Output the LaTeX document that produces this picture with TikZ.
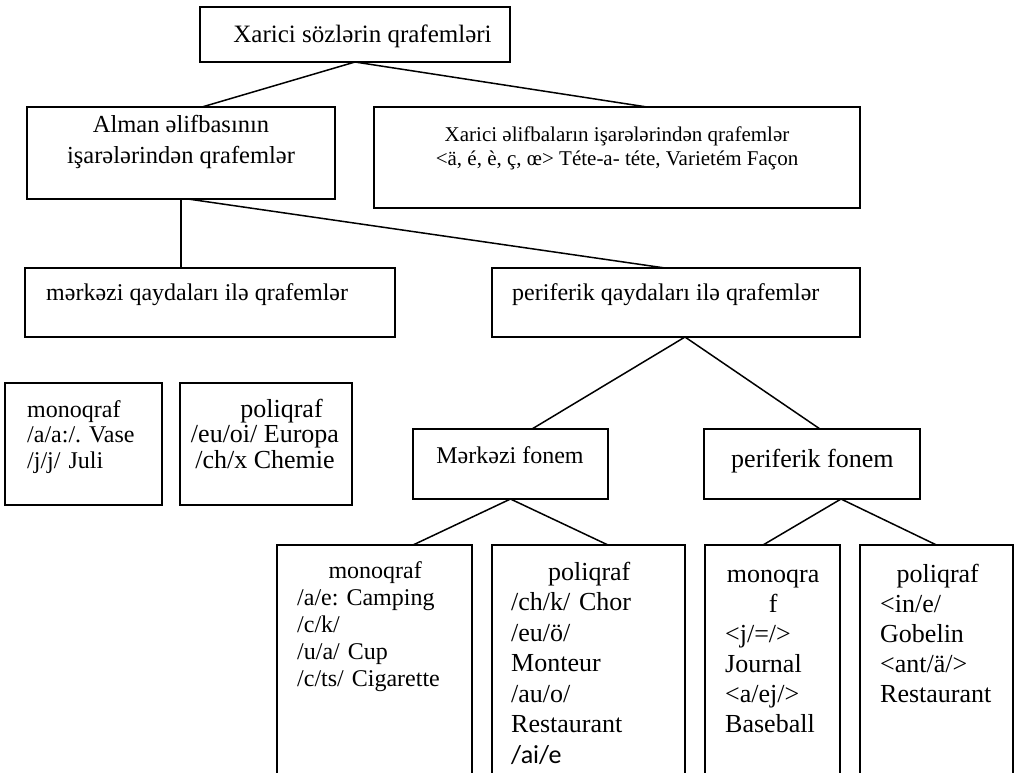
\documentclass[tikz,border=0pt]{standalone}
\usepackage{fontspec}
\setmainfont{Liberation Serif}
\newfontfamily\calibrifont{Carlito}
\usetikzlibrary{calc}
\newcommand{\fs}[2]{\fontsize{#1}{#2}\selectfont}
\frenchspacing

\begin{document}
\begin{tikzpicture}[x=1pt,y=-1pt,
    box/.style={draw, line width=1.6pt, inner sep=0pt, outer sep=0pt, anchor=north west},
    ln/.style={line width=1.5pt},
    txt/.style={inner sep=0pt, anchor=base},
    lst/.style={inner sep=0pt, anchor=base west, align=left, text width=#1}]
    \useasboundingbox (0,0) rectangle (1015,772);
    % boxes
    \node[box, minimum width=310pt, minimum height=55pt] (top) at (200,7) {};
    \node[box, minimum width=308pt, minimum height=92pt] (alman) at (27,107) {};
    \node[box, minimum width=486pt, minimum height=101pt] (xarici) at (374,107) {};
    \node[box, minimum width=370pt, minimum height=69pt] (merkezi) at (25,268) {};
    \node[box, minimum width=368pt, minimum height=69pt] (periferik) at (492,268) {};
    \node[box, minimum width=157pt, minimum height=122pt] (lmono) at (5,383) {};
    \node[box, minimum width=172pt, minimum height=122pt] (lpoli) at (180,383) {};
    \node[box, minimum width=195pt, minimum height=70pt] (mfonem) at (413,429) {};
    \node[box, minimum width=216pt, minimum height=70pt] (pfonem) at (704,429) {};
    \node[box, minimum width=195pt, minimum height=245pt] (bmono1) at (277,545) {};
    \node[box, minimum width=193pt, minimum height=245pt] (bpoli1) at (492,545) {};
    \node[box, minimum width=135pt, minimum height=245pt] (bmono2) at (705,545) {};
    \node[box, minimum width=153pt, minimum height=245pt] (bpoli2) at (860,545) {};
    % texts (align=center nodes sit on their last baseline)
    \node[txt, font=\fs{25}{30}] (toptxt) at (362.5,42) {Xarici sözlərin qrafemləri};
    \node[txt, align=center, font=\fs{24.5}{31}] (almantxt) at (181,163) {Alman əlifbasının\\işarələrindən qrafemlər};
    \node[txt, align=center, font=\fs{21}{23.5}] (xaricitxt) at (617,165) {Xarici əlifbaların işarələrindən qrafemlər\\<ä, é, è, ç, œ> Téte-a- téte, Varietém Façon};
    \node[txt, anchor=base west, font=\fs{24}{28}] (merkezitxt) at (46,300) {mərkəzi qaydaları ilə qrafemlər};
    \node[txt, anchor=base west, font=\fs{24}{28}] (periferiktxt) at (512,300) {periferik qaydaları ilə qrafemlər};
    \node[txt, font=\fs{24}{28}] (mfonemtxt) at (510,463) {Mərkəzi fonem};
    \node[txt, anchor=base west, font=\fs{26}{30}] (pfonemtxt) at (731,467) {periferik fonem};
    \node[lst=130pt, font=\fs{24}{25.5}] (lmonotxt) at (27,417) {monoqraf\\/a/a:/. Vase\\/j/j/ Juli};
    \node[txt, align=center, font=\fs{26}{25.5}] (lpolitxt) at (265,468) {\hspace*{33pt}poliqraf\\/eu/oi/ Europa\\/ch/x Chemie};
    \node[lst=156pt, font=\fs{24}{27}] (bmono1txt) at (297,578) {\makebox[\hsize]{monoqraf}\\/a/e: Camping\\/c/k/\\/u/a/ Cup\\/c/ts/ Cigarette};
    \node[lst=156pt, font=\fs{26}{30.5}] (bpoli1txt) at (511,580) {\makebox[\hsize]{poliqraf}\\/ch/k/ Chor\\/eu/ö/\\Monteur\\/au/o/\\Restaurant\\{\calibrifont /ai/e}};
    \node[lst=96pt, font=\fs{26}{30}] (bmono2txt) at (725,582) {\makebox[\hsize]{monoqra}\\\makebox[\hsize]{f}\\<j/=/>\\Journal\\<a/ej/>\\Baseball};
    \node[lst=115pt, font=\fs{26}{30}] (bpoli2txt) at (880,582) {\makebox[\hsize]{poliqraf}\\<in/e/\\Gobelin\\<ant/ä/>\\Restaurant};
    % connectors
    \draw[ln] (top.south) -- ([xshift=21pt]alman.north);
    \draw[ln] (top.south) -- ([xshift=30pt]xarici.north);
    \draw[ln] (alman.south) -- (alman.south |- merkezi.north);
    \draw[ln] ([xshift=7pt]alman.south) -- ([xshift=-11pt]periferik.north);
    \draw[ln] ([xshift=9pt]periferik.south) -- ([xshift=21.5pt]mfonem.north);
    \draw[ln] ([xshift=9pt]periferik.south) -- ([xshift=8pt]pfonem.north);
    \draw[ln] (mfonem.south) -- ([xshift=38.5pt]bmono1.north);
    \draw[ln] (mfonem.south) -- ([xshift=19.5pt]bpoli1.north);
    \draw[ln] ([xshift=29pt]pfonem.south) -- ([xshift=-9.5pt]bmono2.north);
    \draw[ln] ([xshift=29pt]pfonem.south) -- (bpoli2.north);
\end{tikzpicture}
\end{document}
